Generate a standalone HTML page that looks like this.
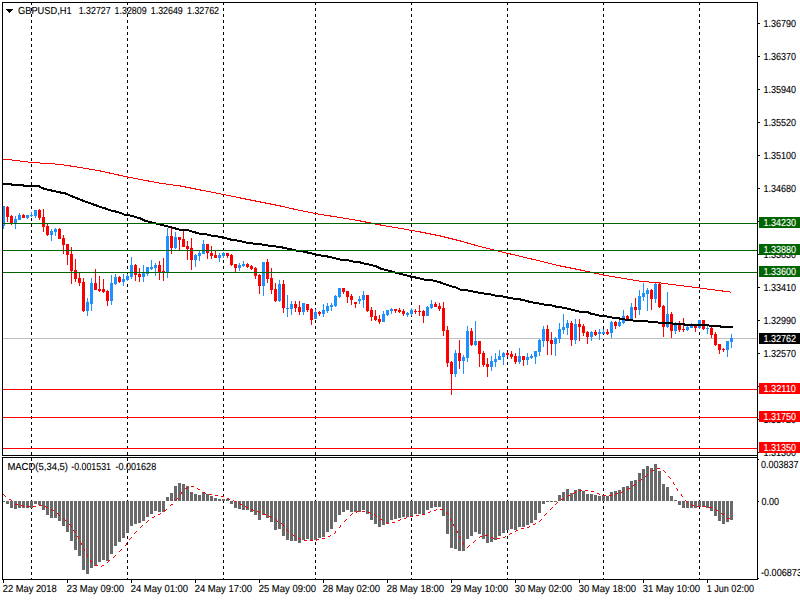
<!DOCTYPE html><html><head><meta charset="utf-8"><title>GBPUSD,H1</title>
<style>html,body{margin:0;padding:0;background:#fff;width:800px;height:600px;overflow:hidden}svg{display:block}text{font-family:"Liberation Sans",sans-serif;font-size:10.2px;text-rendering:geometricPrecision}</style></head><body>
<svg width="800" height="600" viewBox="0 0 800 600">
<rect x="0" y="0" width="800" height="600" fill="#fff"/>
<g shape-rendering="crispEdges">
<line x1="31.5" y1="2" x2="31.5" y2="579" stroke="#000" stroke-width="1" stroke-dasharray="3,3"/>
<line x1="127.5" y1="2" x2="127.5" y2="579" stroke="#000" stroke-width="1" stroke-dasharray="3,3"/>
<line x1="223.5" y1="2" x2="223.5" y2="579" stroke="#000" stroke-width="1" stroke-dasharray="3,3"/>
<line x1="315.5" y1="2" x2="315.5" y2="579" stroke="#000" stroke-width="1" stroke-dasharray="3,3"/>
<line x1="411.5" y1="2" x2="411.5" y2="579" stroke="#000" stroke-width="1" stroke-dasharray="3,3"/>
<line x1="507.5" y1="2" x2="507.5" y2="579" stroke="#000" stroke-width="1" stroke-dasharray="3,3"/>
<line x1="603.5" y1="2" x2="603.5" y2="579" stroke="#000" stroke-width="1" stroke-dasharray="3,3"/>
<line x1="699.5" y1="2" x2="699.5" y2="579" stroke="#000" stroke-width="1" stroke-dasharray="3,3"/>
<rect x="0" y="456" width="757" height="1" fill="#fff"/>
<rect x="3" y="338" width="754" height="1" fill="#c0c0c0"/>
<rect x="2" y="501" width="3" height="1" fill="#696969"/>
<rect x="6" y="501" width="3" height="3" fill="#696969"/>
<rect x="10" y="501" width="3" height="7" fill="#696969"/>
<rect x="14" y="501" width="3" height="8" fill="#696969"/>
<rect x="18" y="501" width="3" height="7" fill="#696969"/>
<rect x="22" y="501" width="3" height="7" fill="#696969"/>
<rect x="26" y="501" width="3" height="7" fill="#696969"/>
<rect x="30" y="501" width="3" height="7" fill="#696969"/>
<rect x="34" y="501" width="3" height="3" fill="#696969"/>
<rect x="38" y="501" width="3" height="4" fill="#696969"/>
<rect x="42" y="501" width="3" height="9" fill="#696969"/>
<rect x="46" y="501" width="3" height="14" fill="#696969"/>
<rect x="50" y="501" width="3" height="17" fill="#696969"/>
<rect x="54" y="501" width="3" height="17" fill="#696969"/>
<rect x="58" y="501" width="3" height="20" fill="#696969"/>
<rect x="62" y="501" width="3" height="25" fill="#696969"/>
<rect x="66" y="501" width="3" height="31" fill="#696969"/>
<rect x="70" y="501" width="3" height="40" fill="#696969"/>
<rect x="74" y="501" width="3" height="49" fill="#696969"/>
<rect x="78" y="501" width="3" height="55" fill="#696969"/>
<rect x="82" y="501" width="3" height="69" fill="#696969"/>
<rect x="86" y="501" width="3" height="73" fill="#696969"/>
<rect x="90" y="501" width="3" height="67" fill="#696969"/>
<rect x="94" y="501" width="3" height="65" fill="#696969"/>
<rect x="98" y="501" width="3" height="61" fill="#696969"/>
<rect x="102" y="501" width="3" height="59" fill="#696969"/>
<rect x="106" y="501" width="3" height="60" fill="#696969"/>
<rect x="110" y="501" width="3" height="53" fill="#696969"/>
<rect x="114" y="501" width="3" height="45" fill="#696969"/>
<rect x="118" y="501" width="3" height="41" fill="#696969"/>
<rect x="122" y="501" width="3" height="37" fill="#696969"/>
<rect x="126" y="501" width="3" height="32" fill="#696969"/>
<rect x="130" y="501" width="3" height="25" fill="#696969"/>
<rect x="134" y="501" width="3" height="23" fill="#696969"/>
<rect x="138" y="501" width="3" height="22" fill="#696969"/>
<rect x="142" y="501" width="3" height="20" fill="#696969"/>
<rect x="146" y="501" width="3" height="16" fill="#696969"/>
<rect x="150" y="501" width="3" height="13" fill="#696969"/>
<rect x="154" y="501" width="3" height="10" fill="#696969"/>
<rect x="158" y="501" width="3" height="11" fill="#696969"/>
<rect x="162" y="501" width="3" height="11" fill="#696969"/>
<rect x="166" y="497" width="3" height="4" fill="#696969"/>
<rect x="170" y="493" width="3" height="8" fill="#696969"/>
<rect x="174" y="486" width="3" height="15" fill="#696969"/>
<rect x="178" y="483" width="3" height="18" fill="#696969"/>
<rect x="182" y="484" width="3" height="17" fill="#696969"/>
<rect x="186" y="486" width="3" height="15" fill="#696969"/>
<rect x="190" y="492" width="3" height="9" fill="#696969"/>
<rect x="194" y="494" width="3" height="7" fill="#696969"/>
<rect x="198" y="495" width="3" height="6" fill="#696969"/>
<rect x="202" y="492" width="3" height="9" fill="#696969"/>
<rect x="206" y="494" width="3" height="7" fill="#696969"/>
<rect x="210" y="496" width="3" height="5" fill="#696969"/>
<rect x="214" y="498" width="3" height="3" fill="#696969"/>
<rect x="218" y="499" width="3" height="2" fill="#696969"/>
<rect x="222" y="499" width="3" height="2" fill="#696969"/>
<rect x="226" y="499" width="3" height="2" fill="#696969"/>
<rect x="230" y="501" width="3" height="3" fill="#696969"/>
<rect x="234" y="501" width="3" height="7" fill="#696969"/>
<rect x="238" y="501" width="3" height="8" fill="#696969"/>
<rect x="242" y="501" width="3" height="9" fill="#696969"/>
<rect x="246" y="501" width="3" height="9" fill="#696969"/>
<rect x="250" y="501" width="3" height="11" fill="#696969"/>
<rect x="254" y="501" width="3" height="14" fill="#696969"/>
<rect x="258" y="501" width="3" height="19" fill="#696969"/>
<rect x="262" y="501" width="3" height="14" fill="#696969"/>
<rect x="266" y="501" width="3" height="17" fill="#696969"/>
<rect x="270" y="501" width="3" height="21" fill="#696969"/>
<rect x="274" y="501" width="3" height="29" fill="#696969"/>
<rect x="278" y="501" width="3" height="28" fill="#696969"/>
<rect x="282" y="501" width="3" height="35" fill="#696969"/>
<rect x="286" y="501" width="3" height="39" fill="#696969"/>
<rect x="290" y="501" width="3" height="40" fill="#696969"/>
<rect x="294" y="501" width="3" height="40" fill="#696969"/>
<rect x="298" y="501" width="3" height="42" fill="#696969"/>
<rect x="302" y="501" width="3" height="39" fill="#696969"/>
<rect x="306" y="501" width="3" height="38" fill="#696969"/>
<rect x="310" y="501" width="3" height="40" fill="#696969"/>
<rect x="314" y="501" width="3" height="39" fill="#696969"/>
<rect x="318" y="501" width="3" height="37" fill="#696969"/>
<rect x="322" y="501" width="3" height="36" fill="#696969"/>
<rect x="326" y="501" width="3" height="31" fill="#696969"/>
<rect x="330" y="501" width="3" height="28" fill="#696969"/>
<rect x="334" y="501" width="3" height="21" fill="#696969"/>
<rect x="338" y="501" width="3" height="14" fill="#696969"/>
<rect x="342" y="501" width="3" height="11" fill="#696969"/>
<rect x="346" y="501" width="3" height="9" fill="#696969"/>
<rect x="350" y="501" width="3" height="11" fill="#696969"/>
<rect x="354" y="501" width="3" height="11" fill="#696969"/>
<rect x="358" y="501" width="3" height="11" fill="#696969"/>
<rect x="362" y="501" width="3" height="9" fill="#696969"/>
<rect x="366" y="501" width="3" height="13" fill="#696969"/>
<rect x="370" y="501" width="3" height="19" fill="#696969"/>
<rect x="374" y="501" width="3" height="23" fill="#696969"/>
<rect x="378" y="501" width="3" height="26" fill="#696969"/>
<rect x="382" y="501" width="3" height="24" fill="#696969"/>
<rect x="386" y="501" width="3" height="23" fill="#696969"/>
<rect x="390" y="501" width="3" height="19" fill="#696969"/>
<rect x="394" y="501" width="3" height="18" fill="#696969"/>
<rect x="398" y="501" width="3" height="17" fill="#696969"/>
<rect x="402" y="501" width="3" height="16" fill="#696969"/>
<rect x="406" y="501" width="3" height="16" fill="#696969"/>
<rect x="410" y="501" width="3" height="16" fill="#696969"/>
<rect x="414" y="501" width="3" height="13" fill="#696969"/>
<rect x="418" y="501" width="3" height="13" fill="#696969"/>
<rect x="422" y="501" width="3" height="13" fill="#696969"/>
<rect x="426" y="501" width="3" height="9" fill="#696969"/>
<rect x="430" y="501" width="3" height="7" fill="#696969"/>
<rect x="434" y="501" width="3" height="6" fill="#696969"/>
<rect x="438" y="501" width="3" height="6" fill="#696969"/>
<rect x="442" y="501" width="3" height="15" fill="#696969"/>
<rect x="446" y="501" width="3" height="33" fill="#696969"/>
<rect x="450" y="501" width="3" height="47" fill="#696969"/>
<rect x="454" y="501" width="3" height="48" fill="#696969"/>
<rect x="458" y="501" width="3" height="50" fill="#696969"/>
<rect x="462" y="501" width="3" height="50" fill="#696969"/>
<rect x="466" y="501" width="3" height="38" fill="#696969"/>
<rect x="470" y="501" width="3" height="35" fill="#696969"/>
<rect x="474" y="501" width="3" height="31" fill="#696969"/>
<rect x="478" y="501" width="3" height="33" fill="#696969"/>
<rect x="482" y="501" width="3" height="38" fill="#696969"/>
<rect x="486" y="501" width="3" height="42" fill="#696969"/>
<rect x="490" y="501" width="3" height="41" fill="#696969"/>
<rect x="494" y="501" width="3" height="39" fill="#696969"/>
<rect x="498" y="501" width="3" height="35" fill="#696969"/>
<rect x="502" y="501" width="3" height="32" fill="#696969"/>
<rect x="506" y="501" width="3" height="29" fill="#696969"/>
<rect x="510" y="501" width="3" height="28" fill="#696969"/>
<rect x="514" y="501" width="3" height="29" fill="#696969"/>
<rect x="518" y="501" width="3" height="26" fill="#696969"/>
<rect x="522" y="501" width="3" height="26" fill="#696969"/>
<rect x="526" y="501" width="3" height="24" fill="#696969"/>
<rect x="530" y="501" width="3" height="22" fill="#696969"/>
<rect x="534" y="501" width="3" height="19" fill="#696969"/>
<rect x="538" y="501" width="3" height="12" fill="#696969"/>
<rect x="542" y="501" width="3" height="3" fill="#696969"/>
<rect x="546" y="501" width="3" height="1" fill="#696969"/>
<rect x="550" y="501" width="3" height="1" fill="#696969"/>
<rect x="554" y="501" width="3" height="1" fill="#696969"/>
<rect x="558" y="495" width="3" height="6" fill="#696969"/>
<rect x="562" y="492" width="3" height="9" fill="#696969"/>
<rect x="566" y="489" width="3" height="12" fill="#696969"/>
<rect x="570" y="493" width="3" height="8" fill="#696969"/>
<rect x="574" y="490" width="3" height="11" fill="#696969"/>
<rect x="578" y="489" width="3" height="12" fill="#696969"/>
<rect x="582" y="491" width="3" height="10" fill="#696969"/>
<rect x="586" y="494" width="3" height="7" fill="#696969"/>
<rect x="590" y="494" width="3" height="7" fill="#696969"/>
<rect x="594" y="495" width="3" height="6" fill="#696969"/>
<rect x="598" y="496" width="3" height="5" fill="#696969"/>
<rect x="602" y="495" width="3" height="6" fill="#696969"/>
<rect x="606" y="496" width="3" height="5" fill="#696969"/>
<rect x="610" y="492" width="3" height="9" fill="#696969"/>
<rect x="614" y="491" width="3" height="10" fill="#696969"/>
<rect x="618" y="490" width="3" height="11" fill="#696969"/>
<rect x="622" y="487" width="3" height="14" fill="#696969"/>
<rect x="626" y="486" width="3" height="15" fill="#696969"/>
<rect x="630" y="481" width="3" height="20" fill="#696969"/>
<rect x="634" y="480" width="3" height="21" fill="#696969"/>
<rect x="638" y="473" width="3" height="28" fill="#696969"/>
<rect x="642" y="469" width="3" height="32" fill="#696969"/>
<rect x="646" y="466" width="3" height="35" fill="#696969"/>
<rect x="650" y="468" width="3" height="33" fill="#696969"/>
<rect x="654" y="464" width="3" height="37" fill="#696969"/>
<rect x="658" y="471" width="3" height="30" fill="#696969"/>
<rect x="662" y="484" width="3" height="17" fill="#696969"/>
<rect x="666" y="487" width="3" height="14" fill="#696969"/>
<rect x="670" y="496" width="3" height="5" fill="#696969"/>
<rect x="674" y="500" width="3" height="1" fill="#696969"/>
<rect x="678" y="501" width="3" height="4" fill="#696969"/>
<rect x="682" y="501" width="3" height="7" fill="#696969"/>
<rect x="686" y="501" width="3" height="7" fill="#696969"/>
<rect x="690" y="501" width="3" height="7" fill="#696969"/>
<rect x="694" y="501" width="3" height="7" fill="#696969"/>
<rect x="698" y="501" width="3" height="6" fill="#696969"/>
<rect x="702" y="501" width="3" height="6" fill="#696969"/>
<rect x="706" y="501" width="3" height="7" fill="#696969"/>
<rect x="710" y="501" width="3" height="10" fill="#696969"/>
<rect x="714" y="501" width="3" height="15" fill="#696969"/>
<rect x="718" y="501" width="3" height="20" fill="#696969"/>
<rect x="722" y="501" width="3" height="23" fill="#696969"/>
<rect x="726" y="501" width="3" height="21" fill="#696969"/>
<rect x="730" y="501" width="3" height="19" fill="#696969"/>
<polyline points="2.5,158.9 31.5,162.4 60.5,164.4 80.5,167.6 100.5,171.0 127.5,177.0 160.5,183.3 180.5,186.0 200.5,190.0 223.5,194.4 240.5,198.0 260.5,202.0 280.5,206.0 300.5,210.6 320.5,214.4 340.5,217.6 360.5,221.0 380.5,225.0 400.5,228.4 411.5,230.4 420.5,232.0 440.5,236.0 460.5,241.0 480.5,246.7 500.5,251.7 520.5,256.3 540.5,261.2 560.5,266.0 580.5,270.0 603.5,275.0 620.5,278.0 640.5,281.3 660.5,283.0 710.5,289.4 731.5,292.2" fill="none" stroke="#ff0000" stroke-width="1" stroke-linejoin="round" />
<rect x="3" y="206" width="1" height="23" fill="#1e90ff"/>
<rect x="2" y="206" width="3" height="20" fill="#1e90ff"/>
<rect x="7" y="206" width="1" height="16" fill="#ff0000"/>
<rect x="6" y="207" width="3" height="10" fill="#ff0000"/>
<rect x="11" y="215" width="1" height="10" fill="#ff0000"/>
<rect x="10" y="216" width="3" height="7" fill="#ff0000"/>
<rect x="15" y="216" width="1" height="13" fill="#1e90ff"/>
<rect x="14" y="219" width="3" height="4" fill="#1e90ff"/>
<rect x="19" y="213" width="1" height="7" fill="#1e90ff"/>
<rect x="18" y="215" width="3" height="5" fill="#1e90ff"/>
<rect x="23" y="214" width="1" height="4" fill="#ff0000"/>
<rect x="22" y="215" width="3" height="3" fill="#ff0000"/>
<rect x="27" y="215" width="1" height="4" fill="#1e90ff"/>
<rect x="26" y="215" width="3" height="3" fill="#1e90ff"/>
<rect x="31" y="212" width="1" height="5" fill="#1e90ff"/>
<rect x="30" y="215" width="3" height="1" fill="#1e90ff"/>
<rect x="35" y="210" width="1" height="8" fill="#1e90ff"/>
<rect x="34" y="210" width="3" height="6" fill="#1e90ff"/>
<rect x="39" y="209" width="1" height="11" fill="#ff0000"/>
<rect x="38" y="210" width="3" height="8" fill="#ff0000"/>
<rect x="43" y="209" width="1" height="23" fill="#ff0000"/>
<rect x="42" y="217" width="3" height="10" fill="#ff0000"/>
<rect x="47" y="224" width="1" height="12" fill="#ff0000"/>
<rect x="46" y="226" width="3" height="9" fill="#ff0000"/>
<rect x="51" y="229" width="1" height="12" fill="#1e90ff"/>
<rect x="50" y="231" width="3" height="4" fill="#1e90ff"/>
<rect x="55" y="228" width="1" height="8" fill="#1e90ff"/>
<rect x="54" y="229" width="3" height="3" fill="#1e90ff"/>
<rect x="59" y="228" width="1" height="11" fill="#ff0000"/>
<rect x="58" y="229" width="3" height="10" fill="#ff0000"/>
<rect x="63" y="235" width="1" height="19" fill="#ff0000"/>
<rect x="62" y="238" width="3" height="7" fill="#ff0000"/>
<rect x="67" y="244" width="1" height="21" fill="#ff0000"/>
<rect x="66" y="244" width="3" height="11" fill="#ff0000"/>
<rect x="71" y="247" width="1" height="37" fill="#ff0000"/>
<rect x="70" y="254" width="3" height="17" fill="#ff0000"/>
<rect x="75" y="259" width="1" height="23" fill="#ff0000"/>
<rect x="74" y="270" width="3" height="9" fill="#ff0000"/>
<rect x="79" y="273" width="1" height="13" fill="#ff0000"/>
<rect x="78" y="278" width="3" height="5" fill="#ff0000"/>
<rect x="83" y="278" width="1" height="34" fill="#ff0000"/>
<rect x="82" y="282" width="3" height="29" fill="#ff0000"/>
<rect x="87" y="298" width="1" height="18" fill="#1e90ff"/>
<rect x="86" y="302" width="3" height="9" fill="#1e90ff"/>
<rect x="91" y="278" width="1" height="33" fill="#1e90ff"/>
<rect x="90" y="283" width="3" height="21" fill="#1e90ff"/>
<rect x="95" y="269" width="1" height="21" fill="#ff0000"/>
<rect x="94" y="283" width="3" height="7" fill="#ff0000"/>
<rect x="99" y="276" width="1" height="16" fill="#ff0000"/>
<rect x="98" y="289" width="3" height="2" fill="#ff0000"/>
<rect x="103" y="279" width="1" height="14" fill="#ff0000"/>
<rect x="102" y="289" width="3" height="3" fill="#ff0000"/>
<rect x="107" y="290" width="1" height="16" fill="#ff0000"/>
<rect x="106" y="291" width="3" height="10" fill="#ff0000"/>
<rect x="111" y="275" width="1" height="30" fill="#1e90ff"/>
<rect x="110" y="283" width="3" height="18" fill="#1e90ff"/>
<rect x="115" y="274" width="1" height="11" fill="#1e90ff"/>
<rect x="114" y="277" width="3" height="7" fill="#1e90ff"/>
<rect x="119" y="276" width="1" height="7" fill="#ff0000"/>
<rect x="118" y="277" width="3" height="5" fill="#ff0000"/>
<rect x="123" y="274" width="1" height="12" fill="#1e90ff"/>
<rect x="122" y="279" width="3" height="3" fill="#1e90ff"/>
<rect x="127" y="274" width="1" height="7" fill="#1e90ff"/>
<rect x="126" y="276" width="3" height="4" fill="#1e90ff"/>
<rect x="131" y="257" width="1" height="22" fill="#1e90ff"/>
<rect x="130" y="265" width="3" height="12" fill="#1e90ff"/>
<rect x="135" y="264" width="1" height="17" fill="#ff0000"/>
<rect x="134" y="265" width="3" height="10" fill="#ff0000"/>
<rect x="139" y="268" width="1" height="14" fill="#ff0000"/>
<rect x="138" y="274" width="3" height="3" fill="#ff0000"/>
<rect x="143" y="265" width="1" height="17" fill="#1e90ff"/>
<rect x="142" y="273" width="3" height="4" fill="#1e90ff"/>
<rect x="147" y="267" width="1" height="9" fill="#1e90ff"/>
<rect x="146" y="267" width="3" height="7" fill="#1e90ff"/>
<rect x="151" y="260" width="1" height="10" fill="#1e90ff"/>
<rect x="150" y="267" width="3" height="2" fill="#1e90ff"/>
<rect x="155" y="263" width="1" height="13" fill="#1e90ff"/>
<rect x="154" y="265" width="3" height="3" fill="#1e90ff"/>
<rect x="159" y="261" width="1" height="19" fill="#ff0000"/>
<rect x="158" y="265" width="3" height="7" fill="#ff0000"/>
<rect x="163" y="258" width="1" height="23" fill="#ff0000"/>
<rect x="162" y="271" width="3" height="1" fill="#ff0000"/>
<rect x="167" y="228" width="1" height="50" fill="#1e90ff"/>
<rect x="166" y="236" width="3" height="36" fill="#1e90ff"/>
<rect x="171" y="228" width="1" height="26" fill="#ff0000"/>
<rect x="170" y="236" width="3" height="12" fill="#ff0000"/>
<rect x="175" y="232" width="1" height="17" fill="#1e90ff"/>
<rect x="174" y="237" width="3" height="11" fill="#1e90ff"/>
<rect x="179" y="237" width="1" height="13" fill="#ff0000"/>
<rect x="178" y="237" width="3" height="3" fill="#ff0000"/>
<rect x="183" y="231" width="1" height="16" fill="#ff0000"/>
<rect x="182" y="239" width="3" height="8" fill="#ff0000"/>
<rect x="187" y="241" width="1" height="19" fill="#ff0000"/>
<rect x="186" y="246" width="3" height="3" fill="#ff0000"/>
<rect x="191" y="238" width="1" height="32" fill="#ff0000"/>
<rect x="190" y="248" width="3" height="12" fill="#ff0000"/>
<rect x="195" y="254" width="1" height="13" fill="#1e90ff"/>
<rect x="194" y="255" width="3" height="5" fill="#1e90ff"/>
<rect x="199" y="251" width="1" height="10" fill="#1e90ff"/>
<rect x="198" y="253" width="3" height="3" fill="#1e90ff"/>
<rect x="203" y="240" width="1" height="14" fill="#1e90ff"/>
<rect x="202" y="244" width="3" height="10" fill="#1e90ff"/>
<rect x="207" y="244" width="1" height="15" fill="#ff0000"/>
<rect x="206" y="244" width="3" height="9" fill="#ff0000"/>
<rect x="211" y="246" width="1" height="13" fill="#ff0000"/>
<rect x="210" y="253" width="3" height="3" fill="#ff0000"/>
<rect x="215" y="251" width="1" height="7" fill="#ff0000"/>
<rect x="214" y="255" width="3" height="3" fill="#ff0000"/>
<rect x="219" y="253" width="1" height="9" fill="#1e90ff"/>
<rect x="218" y="255" width="3" height="3" fill="#1e90ff"/>
<rect x="223" y="252" width="1" height="6" fill="#1e90ff"/>
<rect x="222" y="253" width="3" height="3" fill="#1e90ff"/>
<rect x="227" y="253" width="1" height="5" fill="#ff0000"/>
<rect x="226" y="253" width="3" height="3" fill="#ff0000"/>
<rect x="231" y="254" width="1" height="12" fill="#ff0000"/>
<rect x="230" y="255" width="3" height="10" fill="#ff0000"/>
<rect x="235" y="264" width="1" height="8" fill="#ff0000"/>
<rect x="234" y="264" width="3" height="4" fill="#ff0000"/>
<rect x="239" y="263" width="1" height="8" fill="#1e90ff"/>
<rect x="238" y="265" width="3" height="3" fill="#1e90ff"/>
<rect x="243" y="261" width="1" height="6" fill="#1e90ff"/>
<rect x="242" y="264" width="3" height="2" fill="#1e90ff"/>
<rect x="247" y="263" width="1" height="5" fill="#ff0000"/>
<rect x="246" y="264" width="3" height="3" fill="#ff0000"/>
<rect x="251" y="265" width="1" height="5" fill="#ff0000"/>
<rect x="250" y="266" width="3" height="3" fill="#ff0000"/>
<rect x="255" y="267" width="1" height="12" fill="#ff0000"/>
<rect x="254" y="268" width="3" height="8" fill="#ff0000"/>
<rect x="259" y="274" width="1" height="20" fill="#ff0000"/>
<rect x="258" y="275" width="3" height="11" fill="#ff0000"/>
<rect x="263" y="262" width="1" height="34" fill="#1e90ff"/>
<rect x="262" y="262" width="3" height="24" fill="#1e90ff"/>
<rect x="267" y="259" width="1" height="24" fill="#ff0000"/>
<rect x="266" y="262" width="3" height="17" fill="#ff0000"/>
<rect x="271" y="268" width="1" height="26" fill="#ff0000"/>
<rect x="270" y="278" width="3" height="12" fill="#ff0000"/>
<rect x="275" y="283" width="1" height="19" fill="#ff0000"/>
<rect x="274" y="289" width="3" height="12" fill="#ff0000"/>
<rect x="279" y="280" width="1" height="22" fill="#1e90ff"/>
<rect x="278" y="284" width="3" height="17" fill="#1e90ff"/>
<rect x="283" y="280" width="1" height="33" fill="#ff0000"/>
<rect x="282" y="284" width="3" height="24" fill="#ff0000"/>
<rect x="287" y="295" width="1" height="22" fill="#1e90ff"/>
<rect x="286" y="308" width="3" height="1" fill="#1e90ff"/>
<rect x="291" y="301" width="1" height="14" fill="#1e90ff"/>
<rect x="290" y="304" width="3" height="5" fill="#1e90ff"/>
<rect x="295" y="301" width="1" height="11" fill="#ff0000"/>
<rect x="294" y="304" width="3" height="4" fill="#ff0000"/>
<rect x="299" y="301" width="1" height="14" fill="#ff0000"/>
<rect x="298" y="307" width="3" height="5" fill="#ff0000"/>
<rect x="303" y="303" width="1" height="12" fill="#1e90ff"/>
<rect x="302" y="303" width="3" height="9" fill="#1e90ff"/>
<rect x="307" y="304" width="1" height="8" fill="#ff0000"/>
<rect x="306" y="304" width="3" height="6" fill="#ff0000"/>
<rect x="311" y="308" width="1" height="17" fill="#ff0000"/>
<rect x="310" y="309" width="3" height="11" fill="#ff0000"/>
<rect x="315" y="309" width="1" height="10" fill="#1e90ff"/>
<rect x="314" y="312" width="3" height="7" fill="#1e90ff"/>
<rect x="319" y="311" width="1" height="5" fill="#ff0000"/>
<rect x="318" y="312" width="3" height="2" fill="#ff0000"/>
<rect x="323" y="304" width="1" height="13" fill="#1e90ff"/>
<rect x="322" y="310" width="3" height="4" fill="#1e90ff"/>
<rect x="327" y="303" width="1" height="10" fill="#1e90ff"/>
<rect x="326" y="306" width="3" height="5" fill="#1e90ff"/>
<rect x="331" y="303" width="1" height="8" fill="#1e90ff"/>
<rect x="330" y="305" width="3" height="2" fill="#1e90ff"/>
<rect x="335" y="295" width="1" height="12" fill="#1e90ff"/>
<rect x="334" y="296" width="3" height="10" fill="#1e90ff"/>
<rect x="339" y="288" width="1" height="10" fill="#1e90ff"/>
<rect x="338" y="288" width="3" height="9" fill="#1e90ff"/>
<rect x="343" y="288" width="1" height="6" fill="#ff0000"/>
<rect x="342" y="288" width="3" height="4" fill="#ff0000"/>
<rect x="347" y="291" width="1" height="12" fill="#ff0000"/>
<rect x="346" y="291" width="3" height="6" fill="#ff0000"/>
<rect x="351" y="294" width="1" height="11" fill="#ff0000"/>
<rect x="350" y="296" width="3" height="4" fill="#ff0000"/>
<rect x="355" y="302" width="1" height="6" fill="#ff0000"/>
<rect x="354" y="302" width="3" height="2" fill="#ff0000"/>
<rect x="359" y="296" width="1" height="8" fill="#1e90ff"/>
<rect x="358" y="299" width="3" height="2" fill="#1e90ff"/>
<rect x="363" y="291" width="1" height="17" fill="#1e90ff"/>
<rect x="362" y="295" width="3" height="5" fill="#1e90ff"/>
<rect x="367" y="295" width="1" height="17" fill="#ff0000"/>
<rect x="366" y="295" width="3" height="16" fill="#ff0000"/>
<rect x="371" y="307" width="1" height="14" fill="#ff0000"/>
<rect x="370" y="310" width="3" height="7" fill="#ff0000"/>
<rect x="375" y="310" width="1" height="11" fill="#ff0000"/>
<rect x="374" y="316" width="3" height="4" fill="#ff0000"/>
<rect x="379" y="315" width="1" height="9" fill="#ff0000"/>
<rect x="378" y="319" width="3" height="3" fill="#ff0000"/>
<rect x="383" y="311" width="1" height="11" fill="#1e90ff"/>
<rect x="382" y="314" width="3" height="8" fill="#1e90ff"/>
<rect x="387" y="310" width="1" height="6" fill="#1e90ff"/>
<rect x="386" y="310" width="3" height="5" fill="#1e90ff"/>
<rect x="391" y="308" width="1" height="6" fill="#1e90ff"/>
<rect x="390" y="309" width="3" height="2" fill="#1e90ff"/>
<rect x="395" y="309" width="1" height="4" fill="#ff0000"/>
<rect x="394" y="309" width="3" height="2" fill="#ff0000"/>
<rect x="399" y="308" width="1" height="5" fill="#ff0000"/>
<rect x="398" y="310" width="3" height="2" fill="#ff0000"/>
<rect x="403" y="309" width="1" height="7" fill="#ff0000"/>
<rect x="402" y="311" width="3" height="3" fill="#ff0000"/>
<rect x="407" y="312" width="1" height="5" fill="#1e90ff"/>
<rect x="406" y="313" width="3" height="2" fill="#1e90ff"/>
<rect x="411" y="308" width="1" height="8" fill="#1e90ff"/>
<rect x="410" y="310" width="3" height="4" fill="#1e90ff"/>
<rect x="415" y="309" width="1" height="5" fill="#ff0000"/>
<rect x="414" y="311" width="3" height="1" fill="#ff0000"/>
<rect x="419" y="305" width="1" height="11" fill="#ff0000"/>
<rect x="418" y="311" width="3" height="1" fill="#ff0000"/>
<rect x="423" y="310" width="1" height="13" fill="#ff0000"/>
<rect x="422" y="311" width="3" height="5" fill="#ff0000"/>
<rect x="427" y="306" width="1" height="10" fill="#1e90ff"/>
<rect x="426" y="307" width="3" height="9" fill="#1e90ff"/>
<rect x="431" y="300" width="1" height="9" fill="#1e90ff"/>
<rect x="430" y="304" width="3" height="4" fill="#1e90ff"/>
<rect x="435" y="302" width="1" height="5" fill="#ff0000"/>
<rect x="434" y="304" width="3" height="3" fill="#ff0000"/>
<rect x="439" y="303" width="1" height="8" fill="#ff0000"/>
<rect x="438" y="306" width="3" height="3" fill="#ff0000"/>
<rect x="443" y="302" width="1" height="34" fill="#ff0000"/>
<rect x="442" y="308" width="3" height="23" fill="#ff0000"/>
<rect x="447" y="326" width="1" height="41" fill="#ff0000"/>
<rect x="446" y="330" width="3" height="33" fill="#ff0000"/>
<rect x="451" y="361" width="1" height="34" fill="#ff0000"/>
<rect x="450" y="362" width="3" height="12" fill="#ff0000"/>
<rect x="455" y="350" width="1" height="27" fill="#1e90ff"/>
<rect x="454" y="353" width="3" height="21" fill="#1e90ff"/>
<rect x="459" y="340" width="1" height="29" fill="#ff0000"/>
<rect x="458" y="353" width="3" height="8" fill="#ff0000"/>
<rect x="463" y="355" width="1" height="19" fill="#1e90ff"/>
<rect x="462" y="357" width="3" height="4" fill="#1e90ff"/>
<rect x="467" y="326" width="1" height="36" fill="#1e90ff"/>
<rect x="466" y="331" width="3" height="27" fill="#1e90ff"/>
<rect x="471" y="328" width="1" height="18" fill="#ff0000"/>
<rect x="470" y="331" width="3" height="14" fill="#ff0000"/>
<rect x="475" y="321" width="1" height="25" fill="#1e90ff"/>
<rect x="474" y="341" width="3" height="4" fill="#1e90ff"/>
<rect x="479" y="341" width="1" height="26" fill="#ff0000"/>
<rect x="478" y="341" width="3" height="13" fill="#ff0000"/>
<rect x="483" y="351" width="1" height="16" fill="#ff0000"/>
<rect x="482" y="353" width="3" height="12" fill="#ff0000"/>
<rect x="487" y="358" width="1" height="19" fill="#ff0000"/>
<rect x="486" y="364" width="3" height="3" fill="#ff0000"/>
<rect x="491" y="356" width="1" height="15" fill="#1e90ff"/>
<rect x="490" y="361" width="3" height="6" fill="#1e90ff"/>
<rect x="495" y="353" width="1" height="14" fill="#1e90ff"/>
<rect x="494" y="359" width="3" height="3" fill="#1e90ff"/>
<rect x="499" y="350" width="1" height="10" fill="#1e90ff"/>
<rect x="498" y="356" width="3" height="4" fill="#1e90ff"/>
<rect x="503" y="352" width="1" height="13" fill="#1e90ff"/>
<rect x="502" y="353" width="3" height="4" fill="#1e90ff"/>
<rect x="507" y="352" width="1" height="5" fill="#ff0000"/>
<rect x="506" y="353" width="3" height="2" fill="#ff0000"/>
<rect x="511" y="351" width="1" height="8" fill="#ff0000"/>
<rect x="510" y="354" width="3" height="3" fill="#ff0000"/>
<rect x="515" y="353" width="1" height="11" fill="#ff0000"/>
<rect x="514" y="356" width="3" height="6" fill="#ff0000"/>
<rect x="519" y="348" width="1" height="16" fill="#1e90ff"/>
<rect x="518" y="356" width="3" height="6" fill="#1e90ff"/>
<rect x="523" y="356" width="1" height="10" fill="#ff0000"/>
<rect x="522" y="356" width="3" height="4" fill="#ff0000"/>
<rect x="527" y="353" width="1" height="12" fill="#1e90ff"/>
<rect x="526" y="357" width="3" height="3" fill="#1e90ff"/>
<rect x="531" y="354" width="1" height="5" fill="#1e90ff"/>
<rect x="530" y="356" width="3" height="2" fill="#1e90ff"/>
<rect x="535" y="351" width="1" height="13" fill="#1e90ff"/>
<rect x="534" y="351" width="3" height="6" fill="#1e90ff"/>
<rect x="539" y="339" width="1" height="17" fill="#1e90ff"/>
<rect x="538" y="340" width="3" height="12" fill="#1e90ff"/>
<rect x="543" y="326" width="1" height="21" fill="#1e90ff"/>
<rect x="542" y="329" width="3" height="12" fill="#1e90ff"/>
<rect x="547" y="325" width="1" height="30" fill="#ff0000"/>
<rect x="546" y="329" width="3" height="12" fill="#ff0000"/>
<rect x="551" y="332" width="1" height="23" fill="#ff0000"/>
<rect x="550" y="340" width="3" height="4" fill="#ff0000"/>
<rect x="555" y="337" width="1" height="19" fill="#1e90ff"/>
<rect x="554" y="338" width="3" height="6" fill="#1e90ff"/>
<rect x="559" y="323" width="1" height="20" fill="#1e90ff"/>
<rect x="558" y="329" width="3" height="10" fill="#1e90ff"/>
<rect x="563" y="314" width="1" height="20" fill="#1e90ff"/>
<rect x="562" y="327" width="3" height="3" fill="#1e90ff"/>
<rect x="567" y="320" width="1" height="15" fill="#1e90ff"/>
<rect x="566" y="323" width="3" height="5" fill="#1e90ff"/>
<rect x="571" y="321" width="1" height="25" fill="#ff0000"/>
<rect x="570" y="323" width="3" height="17" fill="#ff0000"/>
<rect x="575" y="319" width="1" height="25" fill="#1e90ff"/>
<rect x="574" y="324" width="3" height="16" fill="#1e90ff"/>
<rect x="579" y="319" width="1" height="22" fill="#ff0000"/>
<rect x="578" y="324" width="3" height="3" fill="#ff0000"/>
<rect x="583" y="324" width="1" height="12" fill="#ff0000"/>
<rect x="582" y="326" width="3" height="7" fill="#ff0000"/>
<rect x="587" y="331" width="1" height="13" fill="#ff0000"/>
<rect x="586" y="332" width="3" height="5" fill="#ff0000"/>
<rect x="591" y="331" width="1" height="10" fill="#1e90ff"/>
<rect x="590" y="332" width="3" height="5" fill="#1e90ff"/>
<rect x="595" y="330" width="1" height="6" fill="#ff0000"/>
<rect x="594" y="332" width="3" height="3" fill="#ff0000"/>
<rect x="599" y="329" width="1" height="11" fill="#1e90ff"/>
<rect x="598" y="332" width="3" height="2" fill="#1e90ff"/>
<rect x="603" y="329" width="1" height="5" fill="#1e90ff"/>
<rect x="602" y="332" width="3" height="2" fill="#1e90ff"/>
<rect x="607" y="329" width="1" height="6" fill="#ff0000"/>
<rect x="606" y="332" width="3" height="2" fill="#ff0000"/>
<rect x="611" y="321" width="1" height="17" fill="#1e90ff"/>
<rect x="610" y="322" width="3" height="11" fill="#1e90ff"/>
<rect x="615" y="321" width="1" height="8" fill="#ff0000"/>
<rect x="614" y="322" width="3" height="4" fill="#ff0000"/>
<rect x="619" y="320" width="1" height="7" fill="#1e90ff"/>
<rect x="618" y="322" width="3" height="4" fill="#1e90ff"/>
<rect x="623" y="310" width="1" height="14" fill="#1e90ff"/>
<rect x="622" y="316" width="3" height="7" fill="#1e90ff"/>
<rect x="627" y="315" width="1" height="4" fill="#ff0000"/>
<rect x="626" y="316" width="3" height="3" fill="#ff0000"/>
<rect x="631" y="303" width="1" height="16" fill="#1e90ff"/>
<rect x="630" y="307" width="3" height="12" fill="#1e90ff"/>
<rect x="635" y="298" width="1" height="20" fill="#ff0000"/>
<rect x="634" y="307" width="3" height="3" fill="#ff0000"/>
<rect x="639" y="290" width="1" height="25" fill="#1e90ff"/>
<rect x="638" y="296" width="3" height="14" fill="#1e90ff"/>
<rect x="643" y="283" width="1" height="18" fill="#1e90ff"/>
<rect x="642" y="293" width="3" height="4" fill="#1e90ff"/>
<rect x="647" y="288" width="1" height="23" fill="#1e90ff"/>
<rect x="646" y="290" width="3" height="4" fill="#1e90ff"/>
<rect x="651" y="289" width="1" height="21" fill="#ff0000"/>
<rect x="650" y="290" width="3" height="9" fill="#ff0000"/>
<rect x="655" y="283" width="1" height="20" fill="#1e90ff"/>
<rect x="654" y="284" width="3" height="15" fill="#1e90ff"/>
<rect x="659" y="283" width="1" height="25" fill="#ff0000"/>
<rect x="658" y="284" width="3" height="23" fill="#ff0000"/>
<rect x="663" y="305" width="1" height="32" fill="#ff0000"/>
<rect x="662" y="306" width="3" height="21" fill="#ff0000"/>
<rect x="667" y="292" width="1" height="36" fill="#1e90ff"/>
<rect x="666" y="314" width="3" height="13" fill="#1e90ff"/>
<rect x="671" y="312" width="1" height="26" fill="#ff0000"/>
<rect x="670" y="314" width="3" height="17" fill="#ff0000"/>
<rect x="675" y="322" width="1" height="12" fill="#1e90ff"/>
<rect x="674" y="324" width="3" height="7" fill="#1e90ff"/>
<rect x="679" y="321" width="1" height="11" fill="#ff0000"/>
<rect x="678" y="324" width="3" height="6" fill="#ff0000"/>
<rect x="683" y="318" width="1" height="14" fill="#ff0000"/>
<rect x="682" y="329" width="3" height="1" fill="#ff0000"/>
<rect x="687" y="326" width="1" height="5" fill="#1e90ff"/>
<rect x="686" y="327" width="3" height="3" fill="#1e90ff"/>
<rect x="691" y="323" width="1" height="5" fill="#1e90ff"/>
<rect x="690" y="324" width="3" height="4" fill="#1e90ff"/>
<rect x="695" y="325" width="1" height="7" fill="#ff0000"/>
<rect x="694" y="326" width="3" height="2" fill="#ff0000"/>
<rect x="699" y="320" width="1" height="9" fill="#1e90ff"/>
<rect x="698" y="320" width="3" height="8" fill="#1e90ff"/>
<rect x="703" y="320" width="1" height="10" fill="#ff0000"/>
<rect x="702" y="320" width="3" height="9" fill="#ff0000"/>
<rect x="707" y="326" width="1" height="8" fill="#1e90ff"/>
<rect x="706" y="328" width="3" height="1" fill="#1e90ff"/>
<rect x="711" y="327" width="1" height="11" fill="#ff0000"/>
<rect x="710" y="328" width="3" height="7" fill="#ff0000"/>
<rect x="715" y="332" width="1" height="14" fill="#ff0000"/>
<rect x="714" y="334" width="3" height="11" fill="#ff0000"/>
<rect x="719" y="344" width="1" height="10" fill="#ff0000"/>
<rect x="718" y="344" width="3" height="6" fill="#ff0000"/>
<rect x="723" y="348" width="1" height="4" fill="#ff0000"/>
<rect x="722" y="349" width="3" height="1" fill="#ff0000"/>
<rect x="727" y="341" width="1" height="16" fill="#1e90ff"/>
<rect x="726" y="341" width="3" height="9" fill="#1e90ff"/>
<rect x="731" y="334" width="1" height="14" fill="#1e90ff"/>
<rect x="730" y="338" width="3" height="4" fill="#1e90ff"/>
<polyline points="2.5,184.0 10.5,184.0 12.5,185.0 22.5,185.0 24.5,186.0 38.5,186.0 40.5,187.3 45.5,189.2 50.5,190.3 55.5,191.3 60.5,192.5 65.5,193.5 70.5,195.6 75.5,197.7 80.5,199.8 85.5,201.6 90.5,203.4 95.5,205.2 100.5,207.0 105.5,208.5 110.5,210.3 115.5,211.5 120.5,213.0 125.5,215.0 130.5,215.6 135.5,217.0 140.5,218.5 145.5,221.0 150.5,222.0 155.5,223.4 160.5,224.5 165.5,225.9 170.5,227.2 175.5,228.5 180.5,229.8 187.5,230.0 190.5,231.1 195.5,232.5 200.5,233.8 205.5,234.2 210.5,235.5 215.5,236.1 220.5,237.0 225.5,238.2 230.5,239.5 235.5,240.2 240.5,241.1 245.5,242.5 250.5,243.0 255.5,244.0 260.5,244.3 265.5,245.0 270.5,246.0 275.5,246.5 280.5,247.0 285.5,248.2 290.5,249.2 295.5,250.5 300.5,251.0 305.5,252.0 310.5,253.2 315.5,254.5 320.5,255.5 325.5,256.0 330.5,257.2 335.5,258.3 340.5,259.7 347.5,260.0 350.5,261.1 355.5,261.8 360.5,262.5 365.5,263.8 370.5,264.9 375.5,266.1 380.5,268.6 385.5,270.0 390.5,271.1 395.5,272.6 400.5,274.0 405.5,275.1 410.5,276.5 415.5,277.5 420.5,278.7 425.5,279.8 430.5,280.0 435.5,281.1 440.5,282.5 445.5,284.4 450.5,286.1 455.5,287.2 460.5,289.7 465.5,290.0 470.5,290.9 475.5,292.1 480.5,292.9 485.5,293.7 490.5,294.4 495.5,295.7 500.5,296.0 505.5,297.0 510.5,298.0 515.5,299.0 520.5,299.5 525.5,300.6 530.5,302.1 535.5,303.0 540.5,303.8 545.5,304.9 550.5,305.2 555.5,306.5 560.5,307.2 565.5,308.1 570.5,309.4 575.5,310.7 580.5,311.9 587.5,312.1 590.5,313.5 595.5,314.6 600.5,315.9 605.5,316.1 610.5,317.3 615.5,318.1 620.5,318.6 625.5,319.6 630.5,320.1 635.5,320.9 640.5,321.0 645.5,321.1 650.5,321.9 655.5,322.1 660.5,322.9 671.5,323.1 673.5,324.0 683.5,324.0 685.5,325.0 707.5,325.0 709.5,325.8 719.5,325.8 721.5,327.0 732.5,327.0" fill="none" stroke="#000" stroke-width="2" stroke-linejoin="round" />
<rect x="3" y="223" width="754" height="1" fill="#006400"/>
<rect x="3" y="250" width="754" height="1" fill="#006400"/>
<rect x="3" y="272" width="754" height="1" fill="#006400"/>
<rect x="3" y="389" width="754" height="1" fill="#ff0000"/>
<rect x="3" y="417" width="754" height="1" fill="#ff0000"/>
<rect x="3" y="448" width="754" height="1" fill="#ff0000"/>
<path d="M3 494h1v1h-1zM4 495h1v1h-1zM5 496h1v1h-1zM9 499h1v1h-1zM10 499h1v1h-1zM11 500h1v1h-1zM15 504h1v1h-1zM16 504h1v1h-1zM17 504h1v1h-1zM21 505h1v1h-1zM22 505h1v1h-1zM23 506h1v1h-1zM27 506h1v1h-1zM28 506h1v1h-1zM29 506h1v1h-1zM33 506h1v1h-1zM34 506h1v1h-1zM35 506h1v1h-1zM39 505h1v1h-1zM40 505h1v1h-1zM41 505h1v1h-1zM45 506h1v1h-1zM46 507h1v1h-1zM47 507h1v1h-1zM51 509h1v1h-1zM52 510h1v1h-1zM53 510h1v1h-1zM57 513h1v1h-1zM58 514h1v1h-1zM59 515h1v1h-1zM63 518h1v1h-1zM64 519h1v1h-1zM65 520h1v1h-1zM69 524h1v1h-1zM70 525h1v1h-1zM71 526h1v1h-1zM73 530h1v1h-1zM74 531h1v1h-1zM75 532h1v1h-1zM77 536h1v1h-1zM78 537h1v1h-1zM78 538h1v1h-1zM80 542h1v1h-1zM81 543h1v1h-1zM81 544h1v1h-1zM83 548h1v1h-1zM84 549h1v1h-1zM84 550h1v1h-1zM86 554h1v1h-1zM87 555h1v1h-1zM87 556h1v1h-1zM90 560h1v1h-1zM90 561h1v1h-1zM91 561h1v1h-1zM95 565h1v1h-1zM96 565h1v1h-1zM97 565h1v1h-1zM101 566h1v1h-1zM102 565h1v1h-1zM103 565h1v1h-1zM107 562h1v1h-1zM108 561h1v1h-1zM109 560h1v1h-1zM113 557h1v1h-1zM114 556h1v1h-1zM115 555h1v1h-1zM119 551h1v1h-1zM120 550h1v1h-1zM121 549h1v1h-1zM125 545h1v1h-1zM126 544h1v1h-1zM126 543h1v1h-1zM129 539h1v1h-1zM130 538h1v1h-1zM131 537h1v1h-1zM134 533h1v1h-1zM135 532h1v1h-1zM136 531h1v1h-1zM140 527h1v1h-1zM141 526h1v1h-1zM142 525h1v1h-1zM146 522h1v1h-1zM147 521h1v1h-1zM148 520h1v1h-1zM152 517h1v1h-1zM153 517h1v1h-1zM154 516h1v1h-1zM158 514h1v1h-1zM159 514h1v1h-1zM160 513h1v1h-1zM164 510h1v1h-1zM165 510h1v1h-1zM166 509h1v1h-1zM170 505h1v1h-1zM171 504h1v1h-1zM172 504h1v1h-1zM175 500h1v1h-1zM176 499h1v1h-1zM177 498h1v1h-1zM180 494h1v1h-1zM181 493h1v1h-1zM181 492h1v1h-1zM185 488h1v1h-1zM186 488h1v1h-1zM187 487h1v1h-1zM191 486h1v1h-1zM192 486h1v1h-1zM193 486h1v1h-1zM197 488h1v1h-1zM198 489h1v1h-1zM199 489h1v1h-1zM203 492h1v1h-1zM204 492h1v1h-1zM205 493h1v1h-1zM209 494h1v1h-1zM210 494h1v1h-1zM211 494h1v1h-1zM215 495h1v1h-1zM216 495h1v1h-1zM217 495h1v1h-1zM221 496h1v1h-1zM222 496h1v1h-1zM223 496h1v1h-1zM227 498h1v1h-1zM228 498h1v1h-1zM229 499h1v1h-1zM233 500h1v1h-1zM234 501h1v1h-1zM235 501h1v1h-1zM239 503h1v1h-1zM240 504h1v1h-1zM241 504h1v1h-1zM245 506h1v1h-1zM246 507h1v1h-1zM247 507h1v1h-1zM251 509h1v1h-1zM252 509h1v1h-1zM253 510h1v1h-1zM257 511h1v1h-1zM258 511h1v1h-1zM259 512h1v1h-1zM263 514h1v1h-1zM264 514h1v1h-1zM265 514h1v1h-1zM269 516h1v1h-1zM270 516h1v1h-1zM271 517h1v1h-1zM275 519h1v1h-1zM276 520h1v1h-1zM277 521h1v1h-1zM281 523h1v1h-1zM282 524h1v1h-1zM283 525h1v1h-1zM286 529h1v1h-1zM287 530h1v1h-1zM288 531h1v1h-1zM292 534h1v1h-1zM293 535h1v1h-1zM294 536h1v1h-1zM298 538h1v1h-1zM299 538h1v1h-1zM300 539h1v1h-1zM304 540h1v1h-1zM305 540h1v1h-1zM306 540h1v1h-1zM310 540h1v1h-1zM311 540h1v1h-1zM312 540h1v1h-1zM316 540h1v1h-1zM317 539h1v1h-1zM318 539h1v1h-1zM322 538h1v1h-1zM323 538h1v1h-1zM324 538h1v1h-1zM328 536h1v1h-1zM329 536h1v1h-1zM330 535h1v1h-1zM334 533h1v1h-1zM335 532h1v1h-1zM335 531h1v1h-1zM339 527h1v1h-1zM340 526h1v1h-1zM340 525h1v1h-1zM344 521h1v1h-1zM345 520h1v1h-1zM346 519h1v1h-1zM350 515h1v1h-1zM351 514h1v1h-1zM352 513h1v1h-1zM356 512h1v1h-1zM357 511h1v1h-1zM358 511h1v1h-1zM362 511h1v1h-1zM363 511h1v1h-1zM364 511h1v1h-1zM368 512h1v1h-1zM369 512h1v1h-1zM370 513h1v1h-1zM374 514h1v1h-1zM375 515h1v1h-1zM376 516h1v1h-1zM380 519h1v1h-1zM381 519h1v1h-1zM382 520h1v1h-1zM386 522h1v1h-1zM387 523h1v1h-1zM388 523h1v1h-1zM392 522h1v1h-1zM393 522h1v1h-1zM394 522h1v1h-1zM398 520h1v1h-1zM399 520h1v1h-1zM400 519h1v1h-1zM404 518h1v1h-1zM405 518h1v1h-1zM406 517h1v1h-1zM410 516h1v1h-1zM411 516h1v1h-1zM412 516h1v1h-1zM416 515h1v1h-1zM417 515h1v1h-1zM418 515h1v1h-1zM422 514h1v1h-1zM423 514h1v1h-1zM424 514h1v1h-1zM428 512h1v1h-1zM429 512h1v1h-1zM430 511h1v1h-1zM434 510h1v1h-1zM435 510h1v1h-1zM436 509h1v1h-1zM440 509h1v1h-1zM441 509h1v1h-1zM442 509h1v1h-1zM446 512h1v1h-1zM447 513h1v1h-1zM448 514h1v1h-1zM450 518h1v1h-1zM450 519h1v1h-1zM451 520h1v1h-1zM453 524h1v1h-1zM453 525h1v1h-1zM454 526h1v1h-1zM456 530h1v1h-1zM457 531h1v1h-1zM457 532h1v1h-1zM459 536h1v1h-1zM460 537h1v1h-1zM460 538h1v1h-1zM462 542h1v1h-1zM463 543h1v1h-1zM463 544h1v1h-1zM467 547h1v1h-1zM468 546h1v1h-1zM469 545h1v1h-1zM473 542h1v1h-1zM474 541h1v1h-1zM475 540h1v1h-1zM479 537h1v1h-1zM480 536h1v1h-1zM481 536h1v1h-1zM485 535h1v1h-1zM486 535h1v1h-1zM487 535h1v1h-1zM491 537h1v1h-1zM492 537h1v1h-1zM493 538h1v1h-1zM497 538h1v1h-1zM498 538h1v1h-1zM499 538h1v1h-1zM503 537h1v1h-1zM504 537h1v1h-1zM505 536h1v1h-1zM509 534h1v1h-1zM510 533h1v1h-1zM511 533h1v1h-1zM515 531h1v1h-1zM516 530h1v1h-1zM517 530h1v1h-1zM521 528h1v1h-1zM522 528h1v1h-1zM523 528h1v1h-1zM527 527h1v1h-1zM528 527h1v1h-1zM529 526h1v1h-1zM533 524h1v1h-1zM534 524h1v1h-1zM535 523h1v1h-1zM539 521h1v1h-1zM540 520h1v1h-1zM541 519h1v1h-1zM544 515h1v1h-1zM545 514h1v1h-1zM546 513h1v1h-1zM550 509h1v1h-1zM551 508h1v1h-1zM552 507h1v1h-1zM555 504h1v1h-1zM556 503h1v1h-1zM557 502h1v1h-1zM561 499h1v1h-1zM562 499h1v1h-1zM563 498h1v1h-1zM567 496h1v1h-1zM568 495h1v1h-1zM569 495h1v1h-1zM573 493h1v1h-1zM574 492h1v1h-1zM575 492h1v1h-1zM579 490h1v1h-1zM580 490h1v1h-1zM581 490h1v1h-1zM585 490h1v1h-1zM586 490h1v1h-1zM587 490h1v1h-1zM591 491h1v1h-1zM592 491h1v1h-1zM593 491h1v1h-1zM597 493h1v1h-1zM598 493h1v1h-1zM599 494h1v1h-1zM603 495h1v1h-1zM604 495h1v1h-1zM605 495h1v1h-1zM609 495h1v1h-1zM610 495h1v1h-1zM611 495h1v1h-1zM615 494h1v1h-1zM616 493h1v1h-1zM617 493h1v1h-1zM621 492h1v1h-1zM622 492h1v1h-1zM623 491h1v1h-1zM627 489h1v1h-1zM628 488h1v1h-1zM629 488h1v1h-1zM633 485h1v1h-1zM634 484h1v1h-1zM635 484h1v1h-1zM639 480h1v1h-1zM640 480h1v1h-1zM641 479h1v1h-1zM645 476h1v1h-1zM646 475h1v1h-1zM647 474h1v1h-1zM651 471h1v1h-1zM652 470h1v1h-1zM653 470h1v1h-1zM657 468h1v1h-1zM658 468h1v1h-1zM659 468h1v1h-1zM663 470h1v1h-1zM664 471h1v1h-1zM665 472h1v1h-1zM668 476h1v1h-1zM669 477h1v1h-1zM670 478h1v1h-1zM673 482h1v1h-1zM673 483h1v1h-1zM674 484h1v1h-1zM676 488h1v1h-1zM677 489h1v1h-1zM677 490h1v1h-1zM681 494h1v1h-1zM681 495h1v1h-1zM682 496h1v1h-1zM685 500h1v1h-1zM686 501h1v1h-1zM687 502h1v1h-1zM691 504h1v1h-1zM692 505h1v1h-1zM693 505h1v1h-1zM697 506h1v1h-1zM698 506h1v1h-1zM699 506h1v1h-1zM703 506h1v1h-1zM704 506h1v1h-1zM705 506h1v1h-1zM709 507h1v1h-1zM710 507h1v1h-1zM711 507h1v1h-1zM715 509h1v1h-1zM716 510h1v1h-1zM717 510h1v1h-1zM721 513h1v1h-1zM722 514h1v1h-1zM723 514h1v1h-1zM727 518h1v1h-1zM728 518h1v1h-1zM729 518h1v1h-1z" fill="#ff0000"/>
<rect x="2" y="2" width="756" height="1" fill="#000"/>
<rect x="2" y="455" width="756" height="1" fill="#000"/>
<rect x="2" y="457" width="756" height="1" fill="#000"/>
<rect x="2" y="579" width="756" height="1" fill="#000"/>
<rect x="2" y="2" width="1" height="454" fill="#000"/>
<rect x="2" y="457" width="1" height="123" fill="#000"/>
<rect x="757" y="2" width="1" height="578" fill="#000"/>
<rect x="758" y="23" width="2" height="1" fill="#000"/>
<rect x="758" y="56" width="2" height="1" fill="#000"/>
<rect x="758" y="89" width="2" height="1" fill="#000"/>
<rect x="758" y="122" width="2" height="1" fill="#000"/>
<rect x="758" y="155" width="2" height="1" fill="#000"/>
<rect x="758" y="188" width="2" height="1" fill="#000"/>
<rect x="758" y="221" width="2" height="1" fill="#000"/>
<rect x="758" y="254" width="2" height="1" fill="#000"/>
<rect x="758" y="287" width="2" height="1" fill="#000"/>
<rect x="758" y="320" width="2" height="1" fill="#000"/>
<rect x="758" y="353" width="2" height="1" fill="#000"/>
<rect x="758" y="386" width="2" height="1" fill="#000"/>
<rect x="758" y="419" width="2" height="1" fill="#000"/>
<rect x="758" y="452" width="2" height="1" fill="#000"/>
<rect x="758" y="459" width="1" height="1" fill="#000"/>
<rect x="758" y="501" width="1" height="1" fill="#000"/>
<rect x="758" y="578" width="1" height="1" fill="#000"/>
<rect x="3" y="580" width="1" height="3" fill="#000"/>
<rect x="67" y="580" width="1" height="3" fill="#000"/>
<rect x="131" y="580" width="1" height="3" fill="#000"/>
<rect x="195" y="580" width="1" height="3" fill="#000"/>
<rect x="259" y="580" width="1" height="3" fill="#000"/>
<rect x="323" y="580" width="1" height="3" fill="#000"/>
<rect x="387" y="580" width="1" height="3" fill="#000"/>
<rect x="451" y="580" width="1" height="3" fill="#000"/>
<rect x="515" y="580" width="1" height="3" fill="#000"/>
<rect x="579" y="580" width="1" height="3" fill="#000"/>
<rect x="643" y="580" width="1" height="3" fill="#000"/>
<rect x="707" y="580" width="1" height="3" fill="#000"/>
<rect x="6" y="9" width="7" height="1" fill="#000"/>
<rect x="7" y="10" width="5" height="1" fill="#000"/>
<rect x="8" y="11" width="3" height="1" fill="#000"/>
<rect x="9" y="12" width="1" height="1" fill="#000"/>
</g>
<text transform="translate(763.4,26.6) scale(1,1)" textLength="32.6" lengthAdjust="spacingAndGlyphs" fill="#000" stroke="#000" stroke-width="0.12">1.36790</text>
<text transform="translate(763.4,59.6) scale(1,1)" textLength="32.6" lengthAdjust="spacingAndGlyphs" fill="#000" stroke="#000" stroke-width="0.12">1.36370</text>
<text transform="translate(763.4,92.6) scale(1,1)" textLength="32.6" lengthAdjust="spacingAndGlyphs" fill="#000" stroke="#000" stroke-width="0.12">1.35940</text>
<text transform="translate(763.4,125.6) scale(1,1)" textLength="32.6" lengthAdjust="spacingAndGlyphs" fill="#000" stroke="#000" stroke-width="0.12">1.35520</text>
<text transform="translate(763.4,158.6) scale(1,1)" textLength="32.6" lengthAdjust="spacingAndGlyphs" fill="#000" stroke="#000" stroke-width="0.12">1.35100</text>
<text transform="translate(763.4,191.6) scale(1,1)" textLength="32.6" lengthAdjust="spacingAndGlyphs" fill="#000" stroke="#000" stroke-width="0.12">1.34680</text>
<text transform="translate(763.4,224.6) scale(1,1)" textLength="32.6" lengthAdjust="spacingAndGlyphs" fill="#000" stroke="#000" stroke-width="0.12">1.34260</text>
<text transform="translate(763.4,257.6) scale(1,1)" textLength="32.6" lengthAdjust="spacingAndGlyphs" fill="#000" stroke="#000" stroke-width="0.12">1.33830</text>
<text transform="translate(763.4,290.6) scale(1,1)" textLength="32.6" lengthAdjust="spacingAndGlyphs" fill="#000" stroke="#000" stroke-width="0.12">1.33410</text>
<text transform="translate(763.4,323.6) scale(1,1)" textLength="32.6" lengthAdjust="spacingAndGlyphs" fill="#000" stroke="#000" stroke-width="0.12">1.32990</text>
<text transform="translate(763.4,356.6) scale(1,1)" textLength="32.6" lengthAdjust="spacingAndGlyphs" fill="#000" stroke="#000" stroke-width="0.12">1.32570</text>
<text transform="translate(763.4,389.6) scale(1,1)" textLength="32.6" lengthAdjust="spacingAndGlyphs" fill="#000" stroke="#000" stroke-width="0.12">1.32150</text>
<text transform="translate(763.4,422.6) scale(1,1)" textLength="32.6" lengthAdjust="spacingAndGlyphs" fill="#000" stroke="#000" stroke-width="0.12">1.31720</text>
<text transform="translate(763.4,455.6) scale(1,1)" textLength="32.6" lengthAdjust="spacingAndGlyphs" fill="#000" stroke="#000" stroke-width="0.12">1.31300</text>
<rect x="759" y="217" width="41" height="11" fill="#006400" shape-rendering="crispEdges"/>
<text transform="translate(763.4,225.6) scale(1,1)" textLength="32.6" lengthAdjust="spacingAndGlyphs" fill="#fff" stroke="#fff" stroke-width="0.12">1.34230</text>
<rect x="759" y="244" width="41" height="11" fill="#006400" shape-rendering="crispEdges"/>
<text transform="translate(763.4,252.6) scale(1,1)" textLength="32.6" lengthAdjust="spacingAndGlyphs" fill="#fff" stroke="#fff" stroke-width="0.12">1.33880</text>
<rect x="759" y="266" width="41" height="11" fill="#006400" shape-rendering="crispEdges"/>
<text transform="translate(763.4,274.6) scale(1,1)" textLength="32.6" lengthAdjust="spacingAndGlyphs" fill="#fff" stroke="#fff" stroke-width="0.12">1.33600</text>
<rect x="759" y="383" width="41" height="11" fill="#ff0000" shape-rendering="crispEdges"/>
<text transform="translate(763.4,391.6) scale(1,1)" textLength="32.6" lengthAdjust="spacingAndGlyphs" fill="#fff" stroke="#fff" stroke-width="0.12">1.32110</text>
<rect x="759" y="411" width="41" height="11" fill="#ff0000" shape-rendering="crispEdges"/>
<text transform="translate(763.4,419.6) scale(1,1)" textLength="32.6" lengthAdjust="spacingAndGlyphs" fill="#fff" stroke="#fff" stroke-width="0.12">1.31750</text>
<rect x="759" y="442" width="41" height="11" fill="#ff0000" shape-rendering="crispEdges"/>
<text transform="translate(763.4,450.6) scale(1,1)" textLength="32.6" lengthAdjust="spacingAndGlyphs" fill="#fff" stroke="#fff" stroke-width="0.12">1.31350</text>
<rect x="759" y="333" width="41" height="11" fill="#000" shape-rendering="crispEdges"/>
<text transform="translate(763.4,341.6) scale(1,1)" textLength="32.6" lengthAdjust="spacingAndGlyphs" fill="#fff" stroke="#fff" stroke-width="0.12">1.32762</text>
<text transform="translate(761,467.8) scale(1,1)" textLength="37.5" lengthAdjust="spacingAndGlyphs" fill="#000" stroke="#000" stroke-width="0.12">0.003837</text>
<text transform="translate(761.4,504.6) scale(1,1)" textLength="17.6" lengthAdjust="spacingAndGlyphs" fill="#000" stroke="#000" stroke-width="0.12">0.00</text>
<text transform="translate(761,576) scale(1,1)" textLength="41" lengthAdjust="spacingAndGlyphs" fill="#000" stroke="#000" stroke-width="0.12">-0.006873</text>
<text transform="translate(18,14.2) scale(1,1)" textLength="53.7" lengthAdjust="spacingAndGlyphs" fill="#000" stroke="#000" stroke-width="0.12">GBPUSD,H1</text>
<text transform="translate(78.7,14.2) scale(1,1)" textLength="32" lengthAdjust="spacingAndGlyphs" fill="#000" stroke="#000" stroke-width="0.12">1.32727</text>
<text transform="translate(114.6,14.2) scale(1,1)" textLength="32" lengthAdjust="spacingAndGlyphs" fill="#000" stroke="#000" stroke-width="0.12">1.32809</text>
<text transform="translate(150.8,14.2) scale(1,1)" textLength="32" lengthAdjust="spacingAndGlyphs" fill="#000" stroke="#000" stroke-width="0.12">1.32649</text>
<text transform="translate(187,14.2) scale(1,1)" textLength="32" lengthAdjust="spacingAndGlyphs" fill="#000" stroke="#000" stroke-width="0.12">1.32762</text>
<text transform="translate(7.4,470.2) scale(1,1)" textLength="60.6" lengthAdjust="spacingAndGlyphs" fill="#000" stroke="#000" stroke-width="0.12">MACD(5,34,5)</text>
<text transform="translate(71.2,470.2) scale(1,1)" textLength="39.8" lengthAdjust="spacingAndGlyphs" fill="#000" stroke="#000" stroke-width="0.12">-0.001531</text>
<text transform="translate(115.4,470.2) scale(1,1)" textLength="40.8" lengthAdjust="spacingAndGlyphs" fill="#000" stroke="#000" stroke-width="0.12">-0.001628</text>
<text transform="translate(2.7,591.8) scale(1,1)" textLength="54" lengthAdjust="spacingAndGlyphs" fill="#000" stroke="#000" stroke-width="0.12">22 May 2018</text>
<text transform="translate(66.7,591.8) scale(1,1)" textLength="57.4" lengthAdjust="spacingAndGlyphs" fill="#000" stroke="#000" stroke-width="0.12">23 May 09:00</text>
<text transform="translate(130.7,591.8) scale(1,1)" textLength="57.4" lengthAdjust="spacingAndGlyphs" fill="#000" stroke="#000" stroke-width="0.12">24 May 01:00</text>
<text transform="translate(194.7,591.8) scale(1,1)" textLength="57.4" lengthAdjust="spacingAndGlyphs" fill="#000" stroke="#000" stroke-width="0.12">24 May 17:00</text>
<text transform="translate(258.7,591.8) scale(1,1)" textLength="57.4" lengthAdjust="spacingAndGlyphs" fill="#000" stroke="#000" stroke-width="0.12">25 May 09:00</text>
<text transform="translate(322.7,591.8) scale(1,1)" textLength="57.4" lengthAdjust="spacingAndGlyphs" fill="#000" stroke="#000" stroke-width="0.12">28 May 02:00</text>
<text transform="translate(386.7,591.8) scale(1,1)" textLength="57.4" lengthAdjust="spacingAndGlyphs" fill="#000" stroke="#000" stroke-width="0.12">28 May 18:00</text>
<text transform="translate(450.7,591.8) scale(1,1)" textLength="57.4" lengthAdjust="spacingAndGlyphs" fill="#000" stroke="#000" stroke-width="0.12">29 May 10:00</text>
<text transform="translate(514.7,591.8) scale(1,1)" textLength="57.4" lengthAdjust="spacingAndGlyphs" fill="#000" stroke="#000" stroke-width="0.12">30 May 02:00</text>
<text transform="translate(578.7,591.8) scale(1,1)" textLength="57.4" lengthAdjust="spacingAndGlyphs" fill="#000" stroke="#000" stroke-width="0.12">30 May 18:00</text>
<text transform="translate(642.7,591.8) scale(1,1)" textLength="57.4" lengthAdjust="spacingAndGlyphs" fill="#000" stroke="#000" stroke-width="0.12">31 May 10:00</text>
<text transform="translate(706.7,591.8) scale(1,1)" textLength="47.3" lengthAdjust="spacingAndGlyphs" fill="#000" stroke="#000" stroke-width="0.12">1 Jun 02:00</text>
</svg></body></html>
